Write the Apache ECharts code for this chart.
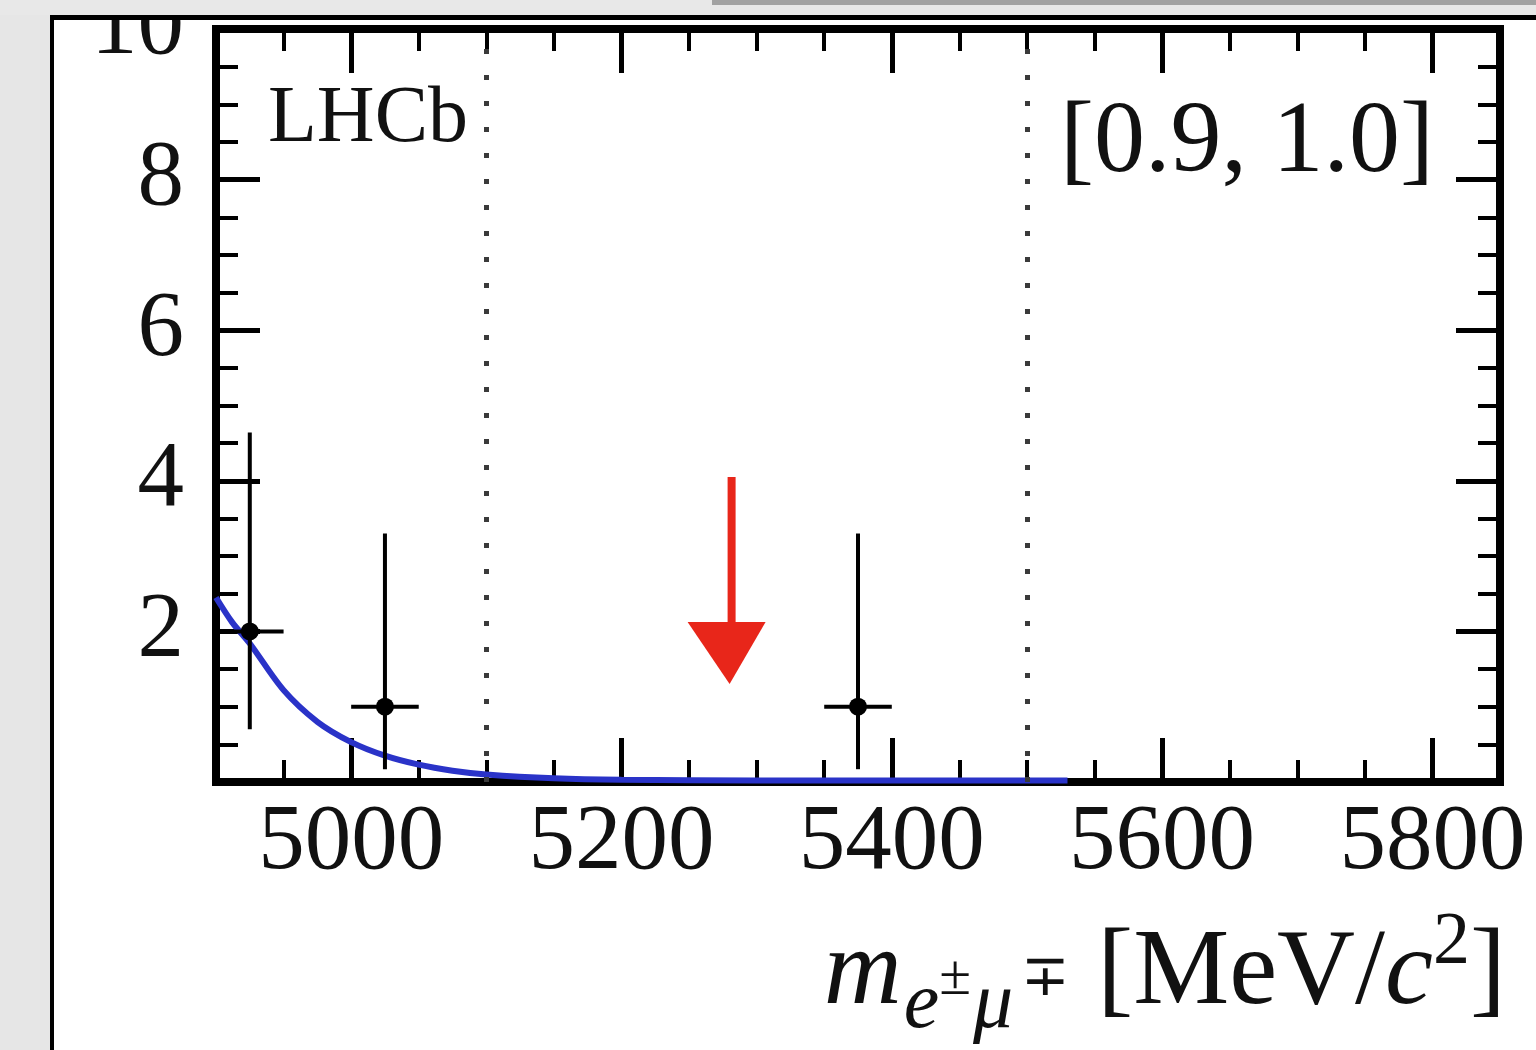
<!DOCTYPE html>
<html><head><meta charset="utf-8">
<script src="https://cdn.jsdelivr.net/npm/echarts@6/dist/echarts.min.js"></script>
<style>html,body{margin:0;padding:0;background:#e6e6e6}#c{width:1536px;height:1050px}</style>
</head><body><div id="c"></div>
<script>
// ---- data ----
const pointX = [4925, 5025, 5375];
const pointY = [2, 1, 1];
const pointErrLow = [1.30, 0.83, 0.83];
const pointErrHigh = [2.64, 2.30, 2.30];
const binHalfWidth = 25;
const curveX = [4900, 4912, 4925, 4950, 4975, 5000, 5025, 5050, 5075, 5100, 5150, 5200, 5300, 5400, 5530];
const curveY = [2.45, 2.12, 1.84, 1.22, 0.80, 0.53, 0.35, 0.23, 0.15, 0.10, 0.05, 0.03, 0.02, 0.02, 0.02];
const signalWindow = [5100, 5500];
const arrowX = [5280];
const arrowTop = [4.05];
const arrowTip = [1.30];
const xMajorTicks = [5000, 5200, 5400, 5600, 5800];
const xRange = [4900, 5850];
const yRange = [0, 10];
const labelExperiment = 'LHCb';
const labelBin = '[0.9, 1.0]';
const axisTitle = '{i|m}{sub|e}{pm|±}{sub|μ}{pm2|∓} [MeV/{i|c}{sup|2}]';

const SERIF = "'Liberation Serif','Times New Roman',serif";

const pointData = pointX.map((x, i) => [x, pointY[i], x - binHalfWidth, x + binHalfWidth, pointY[i] - pointErrLow[i], pointY[i] + pointErrHigh[i]]);
const curveData = curveX.map((x, i) => [x, curveY[i]]);
const arrowData = arrowX.map((x, i) => [x, arrowTop[i], arrowTip[i]]);

function minorX(position, showLabel) {
  return {
    type: 'value', position: position, min: xRange[0], max: xRange[1], interval: 50,
    axisLine: { show: false }, splitLine: { show: false },
    axisTick: { show: true, inside: true, length: 22, lineStyle: { color: '#000', width: 4 } },
    axisLabel: showLabel ? {
      show: true, margin: 15, color: '#111', fontFamily: SERIF, fontSize: 93,
      formatter: v => xMajorTicks.includes(v) ? String(v) : ''
    } : { show: false }
  };
}
function majorX(position) {
  return {
    type: 'value', position: position, min: xRange[0], max: xRange[1],
    axisLine: { show: false }, splitLine: { show: false },
    axisTick: { show: true, inside: true, length: 44, customValues: xMajorTicks, lineStyle: { color: '#000', width: 5 } },
    axisLabel: { show: false, customValues: xMajorTicks }
  };
}
function yAx(position, showLabel) {
  return {
    type: 'value', position: position, min: yRange[0], max: yRange[1], interval: 2,
    axisLine: { show: false }, splitLine: { show: false },
    axisTick: { show: true, inside: true, length: 44, lineStyle: { color: '#000', width: 5 } },
    minorTick: { show: true, splitNumber: 4, length: 22, lineStyle: { color: '#000', width: 4 } },
    axisLabel: showLabel ? { show: true, margin: 32, color: '#111', fontFamily: SERIF, fontSize: 93,
      formatter: v => v === 0 ? '' : String(v) } : { show: false }
  };
}

const chart = echarts.init(document.getElementById('c'), null, { renderer: 'canvas' });
chart.setOption({
  backgroundColor: '#e6e6e6',
  animation: false,
  grid: { left: 216, right: 36, top: 29, bottom: 268, containLabel: false, outerBoundsMode: 'none',
    show: true, borderWidth: 8, borderColor: '#000', backgroundColor: '#fff' },
  xAxis: [minorX('bottom', true), majorX('bottom'), minorX('top', false), majorX('top')],
  yAxis: [yAx('left', true), yAx('right', false)],
  graphic: [
    { type: 'rect', z: -10, shape: { x: 54, y: 20, width: 1482, height: 1030 }, style: { fill: '#fff' } },
    { type: 'rect', z: 100, shape: { x: 0, y: 0, width: 1536, height: 15 }, style: { fill: '#e8e8e8' } },
    { type: 'rect', z: 101, shape: { x: 712, y: 0, width: 824, height: 5 }, style: { fill: '#a2a2a2' } },
    { type: 'rect', z: 101, shape: { x: 50, y: 15, width: 1486, height: 5 }, style: { fill: '#000' } },
    { type: 'rect', z: 101, shape: { x: 50, y: 15, width: 4, height: 1035 }, style: { fill: '#000' } },
    { type: 'text', z: 50, x: 268, y: 120, style: { text: labelExperiment, font: "80px " + SERIF, fill: '#111', align: 'left', verticalAlign: 'middle' } },
    { type: 'text', z: 50, x: 1060, y: 144, style: { text: labelBin, font: "102px " + SERIF, fill: '#111', align: 'left', verticalAlign: 'middle' } },
    { type: 'text', z: 50, x: 1506, y: 915, style: {
        text: axisTitle, font: "108px " + SERIF, fill: '#111', align: 'right', verticalAlign: 'top', lineHeight: 120,
        rich: {
          i: { fontFamily: SERIF, fontStyle: 'italic', fontSize: 108, lineHeight: 120, fill: '#111' },
          sub: { fontFamily: SERIF, fontStyle: 'italic', fontSize: 80, lineHeight: 120, padding: [62, 0, 0, 2], fill: '#111' },
          pm: { fontFamily: SERIF, fontSize: 58, lineHeight: 120, padding: [8, 0, 0, 0], fill: '#111' },
          pm2: { fontFamily: SERIF, fontSize: 58, lineHeight: 120, padding: [10, 0, 0, 8], fill: '#111' },
          sup: { fontFamily: SERIF, fontSize: 74, lineHeight: 120, padding: [0, 0, 62, 0], fill: '#111' }
        }
      } }
  ],
  series: [
    {
      type: 'line', name: 'fit', xAxisIndex: 0, yAxisIndex: 0, data: curveData, smooth: 0.3,
      showSymbol: false, clip: true, z: 3,
      lineStyle: { color: '#2a33c8', width: 6 },
      markLine: {
        silent: true, symbol: 'none', label: { show: false },
        lineStyle: { type: [5, 21], width: 5, color: '#3a3a3a' },
        data: signalWindow.map(v => ({ xAxis: v }))
      }
    },
    {
      type: 'custom', name: 'data', xAxisIndex: 0, yAxisIndex: 0, data: pointData, z: 4,
      renderItem: function (params, api) {
        const c = api.coord([api.value(0), api.value(1)]);
        const l = api.coord([api.value(2), api.value(1)]);
        const r = api.coord([api.value(3), api.value(1)]);
        const b = api.coord([api.value(0), api.value(4)]);
        const t = api.coord([api.value(0), api.value(5)]);
        const ls = { stroke: '#000', lineWidth: 4 };
        return { type: 'group', children: [
          { type: 'line', shape: { x1: t[0], y1: t[1], x2: b[0], y2: b[1] }, style: ls },
          { type: 'line', shape: { x1: l[0], y1: l[1], x2: r[0], y2: r[1] }, style: ls },
          { type: 'circle', shape: { cx: c[0], cy: c[1], r: 9 }, style: { fill: '#000' } }
        ] };
      }
    },
    {
      type: 'custom', name: 'arrow', xAxisIndex: 0, yAxisIndex: 0, data: arrowData, z: 5,
      renderItem: function (params, api) {
        const top = api.coord([api.value(0), api.value(1)]);
        const tip = api.coord([api.value(0), api.value(2)]);
        const hh = 62, hw = 37;
        return { type: 'group', children: [
          { type: 'line', shape: { x1: top[0] + 2, y1: top[1], x2: tip[0] + 2, y2: tip[1] - hh + 4 }, style: { stroke: '#e8261a', lineWidth: 8 } },
          { type: 'polygon', shape: { points: [[tip[0] - hw - 5, tip[1] - hh], [tip[0] + hw - 1, tip[1] - hh], [tip[0], tip[1]]] }, style: { fill: '#e8261a' } }
        ] };
      }
    }
  ]
});
</script></body></html>
